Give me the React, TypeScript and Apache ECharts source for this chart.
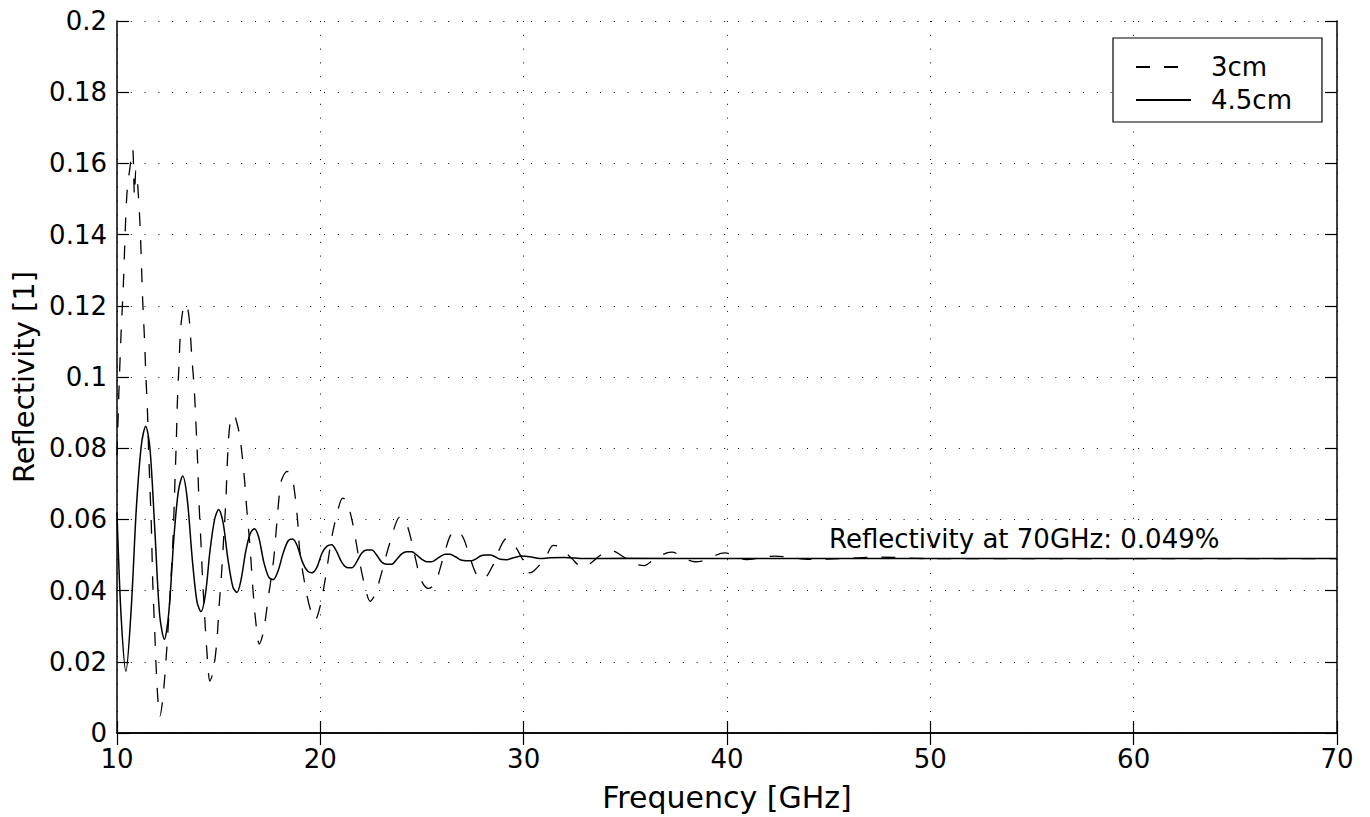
import React, { useEffect, useRef } from "react";
import * as echarts from "echarts";

// 4.5 cm sample (solid)
const freq45 = [
  10.0, 10.2, 10.44, 10.7, 10.95, 11.2, 11.41, 11.62, 11.87, 12.1, 12.33, 12.55, 12.8, 13.02, 13.23,
  13.45, 13.7, 13.93, 14.13, 14.35, 14.57, 14.8, 15.0, 15.22, 15.45, 15.7, 15.9, 16.1, 16.33, 16.55,
  16.75, 16.97, 17.22, 17.47, 17.69, 17.92, 18.17, 18.42, 18.64, 18.87, 19.12, 19.37, 19.59, 19.83,
  20.08, 20.33, 20.56, 20.8, 21.05, 21.3, 21.54, 21.78, 22.03, 22.28, 22.53, 22.77, 23.02, 23.27,
  23.51, 23.76, 24.0, 24.25, 24.5, 24.74, 24.99, 25.24, 25.48, 25.7, 25.93, 26.15, 26.38, 26.65,
  26.91, 27.18, 27.45, 27.68, 27.9, 28.13, 28.35, 28.6, 28.85, 29.17, 29.5, 29.9, 30.3, 30.8, 31.3,
  32.0, 33.0, 35.0, 40.0, 50.0, 60.0, 70.0,
];
const refl45 = [
  0.062, 0.033, 0.0173, 0.035, 0.063, 0.081, 0.0862, 0.08, 0.056, 0.033, 0.0263, 0.034, 0.055, 0.068,
  0.0722, 0.066, 0.049, 0.037, 0.0341, 0.039, 0.051, 0.06, 0.0628, 0.059, 0.049, 0.041, 0.0395, 0.043,
  0.051, 0.056, 0.0574, 0.055, 0.048, 0.0437, 0.0431, 0.0455, 0.0505, 0.054, 0.0545, 0.0525, 0.048,
  0.0455, 0.045, 0.0465, 0.0505, 0.0525, 0.0529, 0.051, 0.048, 0.0465, 0.0464, 0.048, 0.0505, 0.0514,
  0.0514, 0.05, 0.048, 0.0474, 0.0474, 0.0488, 0.0503, 0.0509, 0.0509, 0.05, 0.0488, 0.0481, 0.0481,
  0.0488, 0.0497, 0.0502, 0.0502, 0.0495, 0.0486, 0.0484, 0.0484, 0.049, 0.0498, 0.05, 0.05, 0.0495,
  0.0488, 0.0487, 0.0492, 0.0497, 0.0495, 0.049, 0.0492, 0.0493, 0.049, 0.0491, 0.049, 0.049, 0.049,
  0.049,
];

// 3 cm sample (dashed)
const freq3 = [
  10.0, 10.1, 10.2, 10.31, 10.48, 10.64, 10.77, 10.86, 10.93, 10.98, 11.13, 11.26, 11.35, 11.42, 11.5,
  11.55, 11.62, 11.69, 11.76, 11.86, 11.94, 12.03, 12.11, 12.25, 12.41, 12.55, 12.75, 12.84, 12.92,
  12.97, 13.05, 13.13, 13.25, 13.39, 13.54, 13.67, 13.8, 13.89, 13.97, 14.03, 14.12, 14.2, 14.3, 14.41,
  14.57, 14.72, 14.9, 15.02, 15.15, 15.26, 15.36, 15.43, 15.56, 15.75, 15.9, 16.05, 16.25, 16.38,
  16.54, 16.67, 16.82, 17.0, 17.14, 17.25, 17.44, 17.69, 17.86, 18.02, 18.12, 18.36, 18.55, 18.68,
  18.87, 19.0, 19.33, 19.55, 19.74, 19.99, 20.25, 20.57, 20.92, 21.1, 21.3, 21.58, 21.9, 22.2, 22.45,
  22.7, 22.94, 23.45, 23.92, 24.26, 24.68, 24.95, 25.31, 25.64, 26.1, 26.4, 26.71, 27.04, 27.32, 27.68,
  28.0, 28.48, 28.8, 29.13, 29.46, 29.9, 30.27, 30.51, 31.05, 31.45, 31.76, 32.37, 32.88, 33.18, 33.84,
  34.35, 34.71, 35.43, 35.92, 36.46, 37.04, 37.3, 37.94, 38.43, 38.76, 39.9, 40.94, 42.37, 44.09,
  45.8, 47.5, 50.0, 55.0, 60.0, 70.0,
];
const refl3 = [
  0.078, 0.097, 0.112, 0.1256, 0.1508, 0.159, 0.164, 0.151, 0.158, 0.157, 0.143, 0.122, 0.111, 0.1005,
  0.09, 0.08, 0.069, 0.058, 0.042, 0.028, 0.0165, 0.008, 0.0048, 0.0095, 0.0205, 0.033, 0.054, 0.069,
  0.0825, 0.093, 0.1035, 0.1135, 0.119, 0.1205, 0.117, 0.1065, 0.0965, 0.086, 0.0755, 0.065, 0.0545,
  0.0443, 0.034, 0.0238, 0.0146, 0.017, 0.025, 0.0355, 0.0455, 0.056, 0.066, 0.0765, 0.087, 0.0894,
  0.087, 0.083, 0.0725, 0.063, 0.0525, 0.0415, 0.0315, 0.025, 0.027, 0.03, 0.038, 0.048, 0.059, 0.069,
  0.0715, 0.0735, 0.0725, 0.07, 0.0605, 0.0505, 0.039, 0.034, 0.0317, 0.0356, 0.0435, 0.0552, 0.0638,
  0.066, 0.065, 0.0592, 0.049, 0.041, 0.037, 0.039, 0.0435, 0.054, 0.0607, 0.0585, 0.049, 0.043, 0.0406,
  0.042, 0.0504, 0.0555, 0.057, 0.0547, 0.05, 0.0445, 0.0432, 0.047, 0.0515, 0.0545, 0.0534, 0.0493,
  0.045, 0.0456, 0.049, 0.0527, 0.0523, 0.049, 0.0466, 0.0472, 0.0502, 0.0512, 0.0502, 0.0476, 0.047,
  0.049, 0.0506, 0.0508, 0.049, 0.0481, 0.0483, 0.0506, 0.0487, 0.0497, 0.0488, 0.049, 0.0494, 0.049,
  0.049, 0.049, 0.049,
];

const seriesNames = ["3cm", "4.5cm"];
const xTitle = "Frequency [GHz]";
const yTitle = "Reflectivity [1]";
const annotation = "Reflectivity at 70GHz: 0.049%";

const FONT = "DejaVu Sans";

export default function App() {
  const ref = useRef<HTMLDivElement>(null);
  useEffect(() => {
    if (!ref.current) return;
    const chart = echarts.init(ref.current, undefined, { renderer: "svg" });
    const pairs = (xs: number[], ys: number[]) => xs.map((x, i) => [x, ys[i]]);
    const axisLine = { show: true, lineStyle: { color: "#000", width: 1.5 } };
    const tick = { show: true, inside: true, length: 12, lineStyle: { color: "#000", width: 1.2 } };
    const label = { color: "#000", fontSize: 26, fontFamily: FONT };
    const grid = { show: true, lineStyle: { color: "#000", width: 1, type: [1, 12.8] } };
    chart.setOption({
      animation: false,
      backgroundColor: "#fff",
      grid: { left: 117, right: 33, top: 21, bottom: 82, containLabel: false },
      xAxis: [
        {
          type: "value", min: 10, max: 70, interval: 10, position: "bottom",
          axisLine, axisTick: tick, splitLine: grid,
          axisLabel: { ...label, margin: 13, formatter: (v: number) => String(v) },
          name: xTitle, nameLocation: "middle", nameGap: 49,
          nameTextStyle: { color: "#000", fontSize: 30, fontFamily: FONT },
        },
        {
          type: "value", min: 10, max: 70, interval: 10, position: "top",
          axisLine, axisTick: tick, splitLine: { show: false }, axisLabel: { show: false },
        },
      ],
      yAxis: [
        {
          type: "value", min: 0, max: 0.2, interval: 0.02, position: "left",
          axisLine, axisTick: tick, splitLine: grid,
          axisLabel: { ...label, margin: 10, formatter: (v: number) => String(+v.toFixed(2)) },
          name: yTitle, nameLocation: "middle", nameGap: 75,
          nameTextStyle: { color: "#000", fontSize: 29, fontFamily: FONT },
        },
        {
          type: "value", min: 0, max: 0.2, interval: 0.02, position: "right",
          axisLine, axisTick: tick, splitLine: { show: false }, axisLabel: { show: false },
        },
      ],
      legend: {
        data: seriesNames,
        orient: "vertical",
        left: 1113,
        top: 38,
        itemWidth: 55,
        itemHeight: 25,
        itemGap: 7,
        padding: [16, 30, 9, 22],
        borderColor: "#000",
        borderWidth: 1.2,
        backgroundColor: "#fff",
        itemStyle: { opacity: 0 },
        textStyle: { color: "#000", fontSize: 26, fontFamily: FONT, padding: [0, 0, 0, 15] },
      },
      series: [
        {
          name: seriesNames[0], type: "line", xAxisIndex: 0, yAxisIndex: 0,
          data: pairs(freq3, refl3), showSymbol: false, symbol: "none", smooth: 0.3,
          lineStyle: { color: "#000", width: 1.3, type: [14, 14] },
          itemStyle: { color: "#000" },
        },
        {
          name: seriesNames[1], type: "line", xAxisIndex: 0, yAxisIndex: 0,
          data: pairs(freq45, refl45), showSymbol: false, symbol: "none", smooth: 0.3,
          lineStyle: { color: "#000", width: 1.5, type: "solid" },
          itemStyle: { color: "#000" },
        },
      ],
      graphic: [
        {
          type: "text",
          left: 829,
          top: 526,
          z: 100,
          style: { text: annotation, fill: "#000", font: `26px "${FONT}"` },
        },
      ],
    });
    return () => chart.dispose();
  }, []);
  return (
    <div
      ref={ref}
      style={{ position: "fixed", left: 0, top: 0, width: 1370, height: 817, background: "#fff" }}
    />
  );
}
